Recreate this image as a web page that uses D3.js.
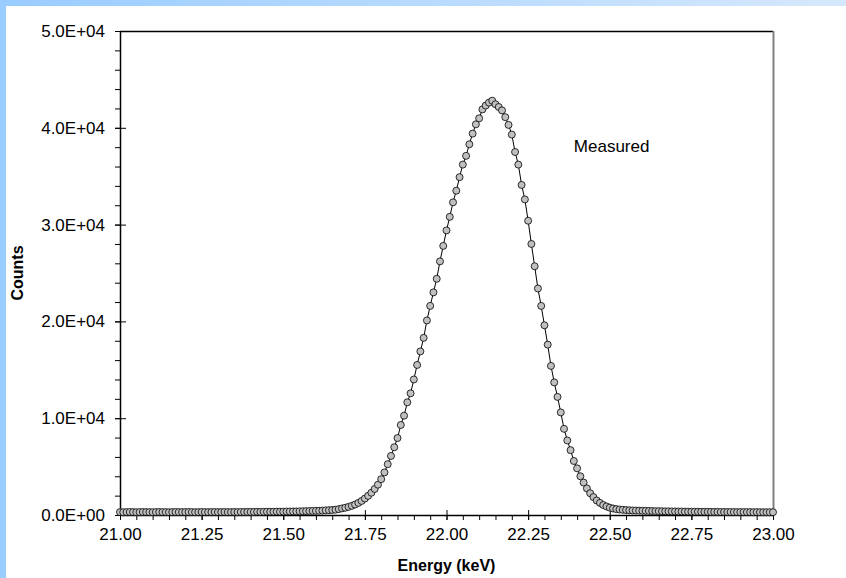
<!DOCTYPE html>
<html>
<head>
<meta charset="utf-8">
<script src="https://cdn.jsdelivr.net/npm/d3@7"></script>
<style>
  body { margin: 0; background: #fff; }
  svg { display: block; font-family: Arial, "Liberation Sans", sans-serif; }
</style>
</head>
<body>
<div class="canvas"></div>
<script>
// Energy axis: 21.00 .. 23.00 keV in 0.01 keV steps
const energyStart = 21.00
const energyStep = 0.01

// Measured counts (one per channel)
const counts = [
  300, 290, 300, 310, 300, 290, 300, 310, 300, 300,
  290, 300, 310, 300, 300, 290, 300, 310, 300, 300,
  300, 310, 300, 290, 300, 310, 300, 300, 300, 310,
  300, 300, 310, 300, 300, 310, 300, 310, 310, 320,
  320, 320, 330, 320, 330, 340, 330, 340, 350, 340,
  350, 360, 360, 370, 370, 380, 390, 400, 410, 420,
  430, 440, 460, 480, 500, 520, 550, 610, 680, 750,
  840, 950, 1080, 1250, 1450, 1700, 1980, 2300, 2690, 3130,
  3700, 4400, 5250, 6100, 7000, 7950, 9300, 10260, 11640, 12570,
  14000, 15500, 16900, 18300, 20100, 21600, 23000, 24400, 26200, 27800,
  29400, 30800, 32300, 33500, 34900, 36200, 37100, 38300, 39400, 40360,
  40980, 41900, 42300, 42600, 42800, 42430, 42150, 41800, 41100, 40300,
  39300, 37500, 36200, 34100, 32600, 30400, 28000, 25700, 23400, 21600,
  19600, 17600, 15400, 13700, 12200, 10600, 8900, 7700, 6700, 5580,
  4820, 4000, 3350, 2750, 2250, 1850, 1500, 1250, 1030, 880,
  760, 670, 610, 570, 540, 510, 490, 470, 460, 450,
  440, 430, 420, 410, 400, 400, 390, 380, 380, 370,
  370, 360, 360, 350, 350, 340, 340, 340, 330, 330,
  330, 320, 320, 320, 310, 310, 310, 310, 300, 300,
  300, 300, 300, 300, 290, 300, 290, 290, 290, 290,
  290
]

// Tick values
const xTicks = [21.00, 21.25, 21.50, 21.75, 22.00, 22.25, 22.50, 22.75, 23.00]
const yTicks = [0, 10000, 20000, 30000, 40000, 50000]
const seriesLabel = 'Measured'

const data = counts.map((c, i) => ({ energy: energyStart + i * energyStep, counts: c }))

const width = 846
const height = 578
const margin = { top: 31, right: 73, bottom: 63, left: 120 }
const graphWidth = width - margin.left - margin.right
const graphHeight = height - margin.top - margin.bottom
const fontStack = 'Arial, "Liberation Sans", sans-serif'

const svg = d3.select('.canvas')
  .append('svg')
    .attr('width', width)
    .attr('height', height)

// Background strips
const defs = svg.append('defs')
const grad = defs.append('linearGradient').attr('id', 'topGrad')
grad.append('stop').attr('offset', '0%').attr('stop-color', '#99ccff')
grad.append('stop').attr('offset', '100%').attr('stop-color', '#d6e8fc')
svg.append('rect').attr('x', 0).attr('y', 0).attr('width', width).attr('height', 6).attr('fill', 'url(#topGrad)')
svg.append('rect').attr('x', 0).attr('y', 0).attr('width', 6).attr('height', height).attr('fill', '#99ccff')

const graph = svg.append('g')
  .attr('transform', `translate(${margin.left},${margin.top})`)

// Scales
const x = d3.scaleLinear().domain([21, 23]).range([0, graphWidth])
const y = d3.scaleLinear().domain([0, 50000]).range([graphHeight, 0])

// Frame: top and right
graph.append('line')
  .attr('x1', 0).attr('x2', graphWidth).attr('y1', 0.5).attr('y2', 0.5)
  .attr('stroke', '#000').attr('stroke-width', 1.5)
graph.append('line')
  .attr('x1', graphWidth + 0.5).attr('x2', graphWidth + 0.5).attr('y1', 0).attr('y2', graphHeight)
  .attr('stroke', '#808080').attr('stroke-width', 2)

// Minor ticks
const xMinor = d3.range(0, 41).map(i => 21 + i * 0.05)
const yMinor = d3.range(0, 26).map(i => i * 2000)

graph.append('g')
  .attr('transform', `translate(0,${graphHeight})`)
  .call(d3.axisBottom(x).tickValues(xMinor).tickSize(5).tickFormat(''))
  .call(g => g.select('.domain').remove())

graph.append('g')
  .call(d3.axisLeft(y).tickValues(yMinor).tickSize(5).tickFormat(''))
  .call(g => g.select('.domain').remove())

// Major axes
const xAxisGroup = graph.append('g')
  .attr('transform', `translate(0,${graphHeight})`)
  .call(d3.axisBottom(x).tickValues(xTicks).tickSize(5).tickSizeOuter(0).tickPadding(8).tickFormat(d3.format('.2f')))

xAxisGroup.selectAll('.tick line').attr('y1', -5)
xAxisGroup.attr('font-size', null).attr('font-family', null)
xAxisGroup.selectAll('text').style('font-size', '17px').style('font-family', fontStack).attr('fill', '#000')

const yAxisGroup = graph.append('g')
  .call(d3.axisLeft(y).tickValues(yTicks).tickSize(5).tickSizeOuter(0).tickPadding(10)
    .tickFormat(d => d3.format('.1e')(d).toUpperCase().replace(/E([+-])(\d)$/, 'E$10$2')))

yAxisGroup.selectAll('.tick line').attr('x1', 6)
yAxisGroup.attr('font-size', null).attr('font-family', null)
yAxisGroup.selectAll('text').style('font-size', '17px').style('font-family', fontStack).attr('fill', '#000')

graph.selectAll('.domain').attr('stroke-width', 1.5)

// Line through the points
const line = d3.line()
  .x(d => x(d.energy))
  .y(d => y(d.counts))

graph.append('path')
  .datum(data)
  .attr('fill', 'none')
  .attr('stroke', '#000')
  .attr('stroke-width', 1)
  .attr('d', line)

// Markers
graph.selectAll('circle')
  .data(data)
  .enter()
  .append('circle')
    .attr('cx', d => x(d.energy))
    .attr('cy', d => y(d.counts))
    .attr('r', 3.5)
    .attr('fill', '#c0c0c0')
    .attr('stroke', '#000')
    .attr('stroke-width', 0.8)

// Series label
graph.append('text')
  .attr('x', x(22.39))
  .attr('y', y(37500))
  .style('font-size', '17px')
  .text(seriesLabel)

// Axis titles
svg.append('text')
  .attr('x', margin.left + graphWidth / 2)
  .attr('y', 571)
  .attr('text-anchor', 'middle')
  .style('font-size', '16px')
  .attr('font-weight', 'bold')
  .text('Energy (keV)')

svg.append('text')
  .attr('transform', `translate(23,${margin.top + graphHeight / 2}) rotate(-90)`)
  .attr('text-anchor', 'middle')
  .style('font-size', '16px')
  .attr('font-weight', 'bold')
  .text('Counts')
</script>
</body>
</html>
